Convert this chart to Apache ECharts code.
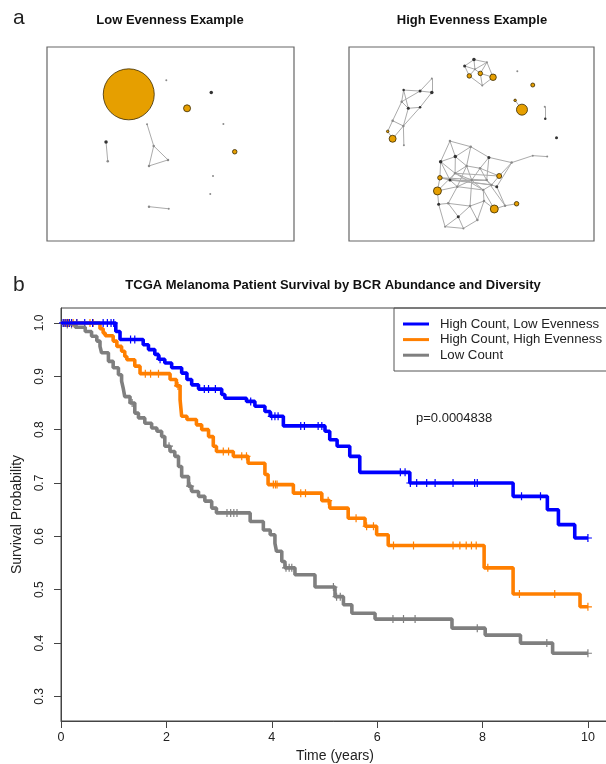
<!DOCTYPE html>
<html>
<head>
<meta charset="utf-8">
<script src="https://cdn.jsdelivr.net/npm/echarts@6/dist/echarts.min.js"></script>
<style>
  html, body { margin: 0; padding: 0; background: #fff; }
  #main { width: 606px; height: 764px; }
</style>
</head>
<body>
<div id="main"></div>
<script>
var FONT = '"Liberation Sans", Arial, sans-serif';

// panel a: node rows are [x, y, size, kind] in layout units (0-100), kind 0 = orange, 1 = dark, 2 = light
var lowNodes = [
  [33.1, 75.6, 51, 0], [48.3, 82.8, 2, 2], [66.5, 76.6, 3.5, 1], [56.7, 68.4, 7, 0],
  [71.4, 60.3, 2, 2], [76.0, 46.0, 4.5, 0], [40.5, 60.2, 2, 2], [43.2, 49.0, 2.5, 2],
  [49.0, 41.8, 2.5, 2], [41.3, 38.7, 2.5, 2], [23.9, 51.0, 3.5, 1], [24.6, 41.1, 2.5, 2],
  [67.2, 33.5, 2, 2], [66.1, 24.2, 2, 2], [41.3, 17.7, 2.5, 2], [49.3, 16.6, 2, 2]
];
var lowEdges = [[6, 7], [7, 8], [7, 9], [9, 8], [10, 11], [14, 15]];

var highNodes = [
  [51.0, 93.5, 3.5, 1], [47.2, 90.2, 3, 1], [56.3, 92.1, 2, 2], [49.1, 85.1, 4.5, 0],
  [53.6, 86.4, 4.5, 0], [58.8, 84.4, 6.5, 0], [54.4, 80.1, 2, 2], [51.4, 88.5, 2, 2],
  [68.7, 87.5, 2, 2], [75.0, 80.4, 4, 0], [67.8, 72.5, 2.5, 0], [70.6, 67.7, 11, 0],
  [79.9, 69.2, 2, 2], [80.1, 63.0, 2.5, 1], [84.7, 53.2, 3, 1],
  [33.8, 83.7, 2, 2], [22.3, 77.8, 2.5, 1], [29.0, 77.3, 3, 1], [33.8, 76.6, 3.5, 1],
  [21.5, 71.8, 2.5, 2], [24.2, 68.4, 3, 1], [29.0, 68.9, 2.5, 1], [17.8, 62.0, 2.5, 2],
  [22.2, 59.3, 2.5, 2], [15.8, 56.5, 2.5, 0], [17.8, 52.7, 7, 0], [22.4, 49.3, 2, 2],
  [41.2, 51.5, 2.5, 2], [49.7, 48.6, 2.5, 2], [57.1, 43.1, 3, 1], [43.4, 43.5, 3.5, 1],
  [37.4, 40.9, 3.5, 1], [48.0, 38.7, 2.5, 2], [53.5, 37.5, 2.5, 2], [66.4, 40.4, 2.5, 2],
  [75.0, 44.0, 2, 2], [80.9, 43.5, 2, 2], [37.1, 32.6, 4.5, 0], [61.3, 33.5, 5, 0],
  [36.1, 25.8, 8, 0], [44.2, 28.0, 2.5, 2], [41.2, 31.4, 3, 1], [56.2, 31.4, 2.5, 2],
  [60.3, 28.0, 3, 1], [54.8, 26.3, 2.5, 2], [40.5, 19.4, 2.5, 2], [36.6, 18.9, 3, 1],
  [49.4, 18.0, 2.5, 2], [55.1, 20.6, 2.5, 2], [59.3, 16.5, 8, 0], [63.7, 18.2, 2.5, 2],
  [68.4, 19.2, 4.5, 0], [44.6, 12.5, 3, 1], [39.2, 7.4, 2, 2], [46.7, 6.5, 2, 2],
  [52.4, 10.8, 2.5, 2], [50.1, 31.4, 2.5, 2], [43.3, 34.9, 2.5, 2], [58.2, 28.9, 2.5, 2]
];
var highEdges = [
  [0, 1], [0, 2], [1, 7], [0, 7], [7, 4], [2, 4], [2, 5], [4, 5], [3, 7], [3, 6], [4, 6], [5, 6], [1, 3], [7, 2],
  [10, 11], [12, 13],
  [15, 17], [15, 18], [17, 18], [16, 17], [16, 19], [16, 20], [19, 17], [20, 21], [21, 18], [19, 22],
  [20, 23], [22, 23], [23, 21], [22, 24], [23, 25], [24, 25], [23, 26], [19, 20],
  [27, 28], [27, 30], [27, 31], [28, 29], [28, 30], [28, 32], [29, 33], [29, 34], [29, 42], [30, 32],
  [30, 31], [31, 37], [31, 41], [32, 33], [32, 56], [33, 42], [33, 38], [34, 35], [35, 36], [34, 38],
  [34, 43], [37, 39], [37, 41], [39, 46], [39, 40], [40, 45], [40, 56], [41, 57], [57, 32], [57, 56],
  [56, 42], [56, 44], [56, 47], [42, 58], [58, 43], [58, 38], [58, 44], [43, 50], [44, 48], [48, 49],
  [49, 50], [50, 51], [48, 47], [47, 52], [47, 45], [45, 46], [46, 53], [45, 52], [52, 53], [52, 54],
  [54, 55], [55, 47], [55, 48], [37, 42], [41, 58], [40, 44], [57, 38], [42, 50], [44, 49], [39, 57],
  [31, 57], [53, 54], [30, 57], [41, 40], [33, 56], [32, 40], [37, 58], [41, 42], [57, 44]
];

// panel b: Kaplan-Meier steps (time in years, survival after each step)
var blueTimes = [0, 1.04, 1.12, 1.56, 1.66, 1.78, 1.85, 1.97, 2.10, 2.29, 2.39, 2.48, 2.61, 3.05, 3.11, 3.52,
  3.68, 3.87, 3.97, 4.22, 5.01, 5.10, 5.24, 5.48, 5.67, 6.62, 8.58, 9.23, 9.44, 9.75, 10.0];
var blueSurv = [1.0, 0.984, 0.969, 0.959, 0.950, 0.941, 0.932, 0.925, 0.916, 0.906, 0.894, 0.884, 0.876, 0.866, 0.859, 0.853,
  0.844, 0.834, 0.825, 0.807, 0.797, 0.781, 0.769, 0.750, 0.720, 0.700, 0.675, 0.650, 0.622, 0.597, 0.597];
var blueCensor = [0.04, 0.08, 0.12, 0.16, 0.2, 0.3, 0.45, 0.6, 0.8, 0.88, 0.95, 1.0, 1.32, 1.4, 1.88, 2.72, 2.8, 2.93,
  3.6, 4.0, 4.06, 4.12, 4.55, 4.62, 4.88, 4.95, 6.44, 6.53, 6.63, 6.75, 6.94, 7.1, 7.44, 7.85, 7.9, 8.74, 9.1, 10.0];

var orangeTimes = [0, 0.74, 0.80, 0.84, 0.99, 1.06, 1.15, 1.21, 1.25, 1.40, 1.50, 2.07, 2.19, 2.26, 2.29, 2.39, 2.57,
  2.67, 2.80, 2.89, 2.95, 3.27, 3.55, 3.87, 3.93, 4.41, 4.95, 5.10, 5.45, 5.77, 5.99, 6.21, 8.03, 8.58, 9.85, 10.0];
var orangeSurv = [1.0, 0.989, 0.981, 0.976, 0.966, 0.956, 0.947, 0.937, 0.931, 0.919, 0.905, 0.894, 0.882, 0.856, 0.825,
  0.819, 0.809, 0.800, 0.787, 0.769, 0.759, 0.750, 0.737, 0.716, 0.697, 0.681, 0.667, 0.653, 0.634, 0.619, 0.603, 0.583,
  0.541, 0.492, 0.468, 0.468];
var orangeCensor = [0.06, 0.1, 0.14, 0.23, 0.3, 0.55, 0.61, 1.6, 1.7, 1.85, 2.22, 3.08, 3.18, 3.43, 3.52, 4.03, 4.07,
  4.1, 4.55, 4.64, 5.07, 5.6, 5.8, 5.93, 6.31, 6.69, 7.44, 7.57, 7.69, 7.79, 7.88, 8.1, 8.7, 9.37, 10.0];

var grayTimes = [0, 0.08, 0.27, 0.46, 0.58, 0.68, 0.74, 0.77, 0.90, 0.99, 1.09, 1.15, 1.18, 1.21, 1.31, 1.40, 1.47,
  1.59, 1.72, 1.82, 1.91, 1.97, 2.07, 2.16, 2.23, 2.29, 2.42, 2.48, 2.61, 2.73, 2.86, 2.95, 3.59, 3.84, 3.97, 4.06,
  4.09, 4.19, 4.25, 4.44, 4.82, 5.20, 5.36, 5.52, 5.96, 7.42, 8.05, 8.72, 9.33, 10.0];
var graySurv = [1.0, 0.997, 0.992, 0.984, 0.975, 0.966, 0.956, 0.944, 0.928, 0.916, 0.903, 0.891, 0.878, 0.862, 0.850,
  0.831, 0.822, 0.812, 0.803, 0.797, 0.787, 0.769, 0.759, 0.750, 0.731, 0.712, 0.694, 0.684, 0.675, 0.666, 0.653,
  0.644, 0.628, 0.612, 0.603, 0.587, 0.572, 0.553, 0.541, 0.528, 0.505, 0.487, 0.472, 0.456, 0.445, 0.428, 0.415,
  0.400, 0.381, 0.381];
var grayCensor = [0.05, 0.12, 0.2, 1.35, 2.05, 2.45, 3.15, 3.22, 3.28, 3.34, 4.27, 4.33, 4.38, 5.17, 5.23, 5.3,
  6.3, 6.5, 6.72, 7.9, 9.22, 10.0];

var xTicks = [0, 2, 4, 6, 8, 10];
var yTicks = [0.3, 0.4, 0.5, 0.6, 0.7, 0.8, 0.9, 1.0];

var names = ['High Count, Low Evenness', 'High Count, High Evenness', 'Low Count'];
var colors = ['#0000ff', '#ff7f00', '#7f7f7f'];

function zip(a, b) {
  return a.map(function (v, i) { return [v, b[i]]; });
}
function survAt(times, surv, t) {
  var s = surv[0];
  for (var i = 0; i < times.length; i++) {
    if (times[i] <= t) s = surv[i];
  }
  return s;
}

var nodeColors = ['#e69f00', '#333333', '#8a8a8a'];
function nodeSeries(nodes, idx) {
  return {
    type: 'scatter', xAxisIndex: idx, yAxisIndex: idx, z: 3, silent: true,
    data: nodes.map(function (n) {
      return {
        value: [n[0], n[1]],
        symbolSize: n[2],
        itemStyle: {
          color: nodeColors[n[3]],
          opacity: 1,
          borderColor: n[3] === 0 ? '#3a2a00' : nodeColors[n[3]],
          borderWidth: n[3] === 0 ? 0.8 : 0
        }
      };
    })
  };
}
function edgeSeries(nodes, edges, idx) {
  return {
    type: 'lines', coordinateSystem: 'cartesian2d', xAxisIndex: idx, yAxisIndex: idx, z: 2, silent: true,
    lineStyle: { color: '#ababab', width: 1, opacity: 1 },
    data: edges.map(function (e) {
      return { coords: [[nodes[e[0]][0], nodes[e[0]][1]], [nodes[e[1]][0], nodes[e[1]][1]]] };
    })
  };
}

var plus = 'path://M3.4,0H4.6V3.4H8V4.6H4.6V8H3.4V4.6H0V3.4H3.4Z';

function kmSeries(k, times, surv) {
  return {
    name: names[k], type: 'line', step: 'end', xAxisIndex: 2, yAxisIndex: 2,
    showSymbol: false, silent: true,
    lineStyle: { width: 3.6, color: colors[k] },
    itemStyle: { color: colors[k] },
    data: zip(times, surv)
  };
}
function censorSeries(k, times, surv, censor) {
  return {
    type: 'scatter', xAxisIndex: 2, yAxisIndex: 2, symbol: plus, symbolSize: 8, silent: true,
    itemStyle: { color: colors[k], opacity: 1 },
    data: censor.map(function (t) { return [t, survAt(times, surv, t)]; })
  };
}

var hiddenAxis = { show: false, min: 0, max: 100 };
var chart = echarts.init(document.getElementById('main'));

var option = {
  animation: false,
  backgroundColor: '#fff',
  grid: [
    { left: 47, top: 47, width: 247, height: 194, show: true, borderColor: '#666', borderWidth: 1.2, outerBoundsMode: 'none' },
    { left: 349, top: 47, width: 245, height: 194, show: true, borderColor: '#666', borderWidth: 1.2, outerBoundsMode: 'none' },
    { left: 61, top: 308, width: 548, height: 413, show: true, borderColor: '#444', borderWidth: 1, outerBoundsMode: 'none' }
  ],
  xAxis: [
    Object.assign({ gridIndex: 0 }, hiddenAxis),
    Object.assign({ gridIndex: 1 }, hiddenAxis),
    {
      gridIndex: 2, type: 'value', min: 0, max: 10.4,
      name: 'Time (years)', nameLocation: 'middle', nameGap: 27,
      nameTextStyle: { fontFamily: FONT, fontSize: 14, color: '#222' },
      axisLine: { show: true, lineStyle: { color: '#444', width: 1 } },
      axisTick: { show: true, length: 7, customValues: xTicks, lineStyle: { color: '#444' } },
      axisLabel: { customValues: xTicks, margin: 10, fontFamily: FONT, fontSize: 12.5, color: '#222' },
      splitLine: { show: false }
    }
  ],
  yAxis: [
    Object.assign({ gridIndex: 0 }, hiddenAxis),
    Object.assign({ gridIndex: 1 }, hiddenAxis),
    {
      gridIndex: 2, type: 'value', min: 0.254, max: 1.028,
      name: 'Survival Probability', nameLocation: 'middle', nameGap: 37, nameRotate: 90,
      nameTextStyle: { fontFamily: FONT, fontSize: 14, color: '#222' },
      axisLine: { show: true, lineStyle: { color: '#444', width: 1 } },
      axisTick: { show: true, length: 7, customValues: yTicks, lineStyle: { color: '#444' } },
      axisLabel: {
        customValues: yTicks, rotate: 90, margin: 15, fontFamily: FONT, fontSize: 12, color: '#222',
        formatter: function (v) { return v.toFixed(1); }
      },
      splitLine: { show: false }
    }
  ],
  legend: {
    data: names, orient: 'vertical', left: 403, top: 317, padding: 0, itemGap: 1.6,
    itemWidth: 26, itemHeight: 3, icon: 'rect', selectedMode: false,
    textStyle: { fontFamily: FONT, fontSize: 13.2, color: '#222', lineHeight: 14, padding: [0, 0, 0, 6] }
  },
  graphic: [
    { type: 'text', left: 13, top: 8, style: { text: 'a', font: '21px ' + FONT, fill: '#222' } },
    { type: 'text', left: 13, top: 275, style: { text: 'b', font: '21px ' + FONT, fill: '#222' } },
    { type: 'text', x: 170, y: 20, style: { text: 'Low Evenness Example', font: 'bold 13px ' + FONT, fill: '#111', textAlign: 'center', textVerticalAlign: 'middle' } },
    { type: 'text', x: 472, y: 20, style: { text: 'High Evenness Example', font: 'bold 13px ' + FONT, fill: '#111', textAlign: 'center', textVerticalAlign: 'middle' } },
    { type: 'text', x: 333, y: 285, style: { text: 'TCGA Melanoma Patient Survival by BCR Abundance and Diversity', font: 'bold 13px ' + FONT, fill: '#111', textAlign: 'center', textVerticalAlign: 'middle' } },
    { type: 'text', x: 416, y: 418, style: { text: 'p=0.0004838', font: '13px ' + FONT, fill: '#222', textVerticalAlign: 'middle' } },
    { type: 'rect', shape: { x: 394, y: 308, width: 240, height: 63 }, style: { fill: 'none', stroke: '#555', lineWidth: 1 }, z: 5 }
  ],
  series: [
    edgeSeries(lowNodes, lowEdges, 0),
    nodeSeries(lowNodes, 0),
    edgeSeries(highNodes, highEdges, 1),
    nodeSeries(highNodes, 1),
    kmSeries(2, grayTimes, graySurv),
    censorSeries(2, grayTimes, graySurv, grayCensor),
    kmSeries(1, orangeTimes, orangeSurv),
    censorSeries(1, orangeTimes, orangeSurv, orangeCensor),
    kmSeries(0, blueTimes, blueSurv),
    censorSeries(0, blueTimes, blueSurv, blueCensor)
  ]
};
chart.setOption(option);
</script>
</body>
</html>
